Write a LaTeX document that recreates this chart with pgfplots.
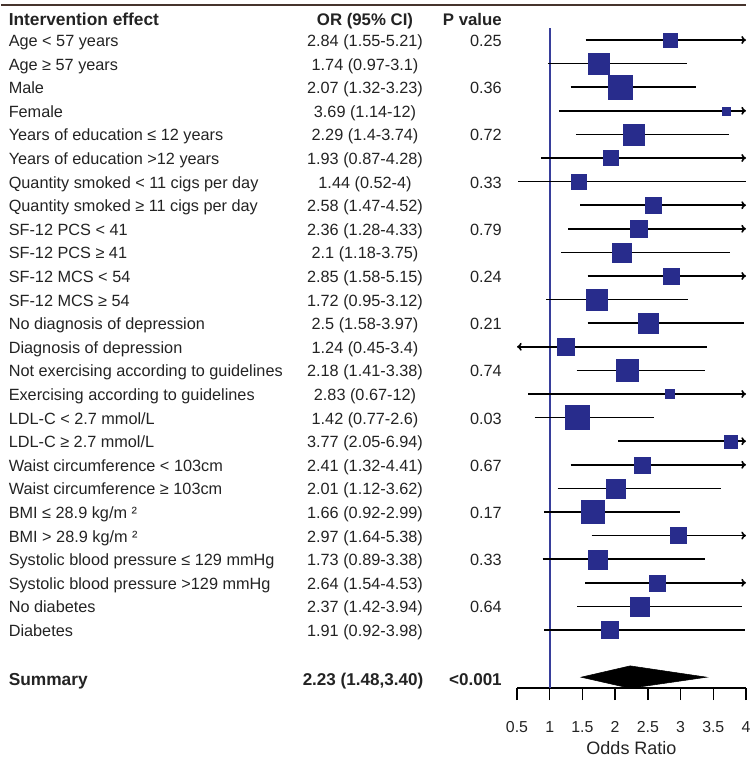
\documentclass[border=0pt]{standalone}
\usepackage{pgfplots}
\pgfplotsset{compat=1.18}
\usepackage{pgfplotstable}
\usepackage{fontspec}
\setmainfont{Liberation Sans}
\usetikzlibrary{arrows.meta}
\definecolor{sqblue}{RGB}{40,44,140}
\definecolor{vblue}{RGB}{55,62,155}
\definecolor{txt}{RGB}{35,35,35}
\definecolor{topline}{RGB}{70,52,45}

% row  OR  lower  upper  square side (px)
\pgfplotstableread{
row or lo hi sz
1 2.84 1.55 5.21 14
2 1.74 0.97 3.1 21
3 2.07 1.32 3.23 24
4 3.69 1.14 12 8
5 2.29 1.4 3.74 21
6 1.93 0.87 4.28 15
7 1.44 0.52 4 15
8 2.58 1.47 4.52 16
9 2.36 1.28 4.33 17
10 2.1 1.18 3.75 19
11 2.85 1.58 5.15 16
12 1.72 0.95 3.12 21
13 2.5 1.58 3.97 20
14 1.24 0.45 3.4 17
15 2.18 1.41 3.38 22
16 2.83 0.67 12 9
17 1.42 0.77 2.6 24
18 3.77 2.05 6.94 13
19 2.41 1.32 4.41 16
20 2.01 1.12 3.62 19
21 1.66 0.92 2.99 23
22 2.97 1.64 5.38 16
23 1.73 0.89 3.38 19
24 2.64 1.54 4.53 16
25 2.37 1.42 3.94 19
26 1.91 0.92 3.98 17
}\data

% CI lines inside the axis range
\pgfplotstableread{
row lo hi
2 0.97 3.1
3 1.32 3.23
5 1.4 3.74
7 0.52 4
10 1.18 3.75
12 0.95 3.12
13 1.58 3.97
15 1.41 3.38
17 0.77 2.6
20 1.12 3.62
21 0.92 2.99
23 0.89 3.38
25 1.42 3.94
26 0.92 3.98
}\ciplain

% CI lines whose upper bound passes 4
\pgfplotstableread{
row lo hi
1 1.55 5.21
4 1.14 12
6 0.87 4.28
8 1.47 4.52
9 1.28 4.33
11 1.58 5.15
16 0.67 12
18 2.05 6.94
19 1.32 4.41
22 1.64 5.38
24 1.54 4.53
}\ciright

% CI lines whose lower bound passes 0.5
\pgfplotstableread{
row lo hi
14 0.45 3.4
}\cileft

\newcommand{\frow}[4]{%
  \pgfmathsetmacro{\yy}{46.5+(#1-1)*23.6}%
  \node[anchor=base west,inner sep=0] at (7.5,\yy) {#2};
  \node[anchor=base,inner sep=0] at (364,\yy) {#3};
  \node[anchor=base east,inner sep=0] at (501,\yy) {#4};
}

\begin{document}
\begin{tikzpicture}
\begin{scope}[x=0.75pt,y=-0.75pt]
\path (0,0) rectangle (755,760);
\draw[topline, line width=1.5pt] (0,5) -- (745,5);
\begin{scope}[text=txt, font=\fontsize{12.2}{14}\selectfont]
\node[anchor=base west,inner sep=0,font=\fontsize{13}{15}\selectfont\bfseries] at (7.5,26) {Intervention effect};
\node[anchor=base,inner sep=0,font=\fontsize{12.6}{15}\selectfont\bfseries] at (364,26) {OR (95\% CI)};
\node[anchor=base east,inner sep=0,font=\fontsize{12.6}{15}\selectfont\bfseries] at (501,26) {P value};
\frow{1}{Age < 57 years}{2.84 (1.55-5.21)}{0.25}
\frow{2}{Age ≥ 57 years}{1.74 (0.97-3.1)}{}
\frow{3}{Male}{2.07 (1.32-3.23)}{0.36}
\frow{4}{Female}{3.69 (1.14-12)}{}
\frow{5}{Years of education ≤ 12 years}{2.29 (1.4-3.74)}{0.72}
\frow{6}{Years of education >12 years}{1.93 (0.87-4.28)}{}
\frow{7}{Quantity smoked < 11 cigs per day}{1.44 (0.52-4)}{0.33}
\frow{8}{Quantity smoked ≥ 11 cigs per day}{2.58 (1.47-4.52)}{}
\frow{9}{SF-12 PCS < 41}{2.36 (1.28-4.33)}{0.79}
\frow{10}{SF-12 PCS ≥ 41}{2.1 (1.18-3.75)}{}
\frow{11}{SF-12 MCS < 54}{2.85 (1.58-5.15)}{0.24}
\frow{12}{SF-12 MCS ≥ 54}{1.72 (0.95-3.12)}{}
\frow{13}{No diagnosis of depression}{2.5 (1.58-3.97)}{0.21}
\frow{14}{Diagnosis of depression}{1.24 (0.45-3.4)}{}
\frow{15}{Not exercising according to guidelines}{2.18 (1.41-3.38)}{0.74}
\frow{16}{Exercising according to guidelines}{2.83 (0.67-12)}{}
\frow{17}{LDL-C < 2.7 mmol/L}{1.42 (0.77-2.6)}{0.03}
\frow{18}{LDL-C ≥ 2.7 mmol/L}{3.77 (2.05-6.94)}{}
\frow{19}{Waist circumference < 103cm}{2.41 (1.32-4.41)}{0.67}
\frow{20}{Waist circumference ≥ 103cm}{2.01 (1.12-3.62)}{}
\frow{21}{BMI ≤ 28.9 kg/m ²}{1.66 (0.92-2.99)}{0.17}
\frow{22}{BMI > 28.9 kg/m ²}{2.97 (1.64-5.38)}{}
\frow{23}{Systolic blood pressure ≤ 129 mmHg}{1.73 (0.89-3.38)}{0.33}
\frow{24}{Systolic blood pressure >129 mmHg}{2.64 (1.54-4.53)}{}
\frow{25}{No diabetes}{2.37 (1.42-3.94)}{0.64}
\frow{26}{Diabetes}{1.91 (0.92-3.98)}{}
\node[anchor=base west,inner sep=0,font=\fontsize{13}{15}\selectfont\bfseries] at (7.5,685) {Summary};
\node[anchor=base,inner sep=0,font=\fontsize{12.8}{15}\selectfont\bfseries] at (362,685) {2.23 (1.48,3.40)};
\node[anchor=base east,inner sep=0,font=\fontsize{12.8}{15}\selectfont\bfseries] at (501,685) {<0.001};
\end{scope}
\end{scope}

\begin{axis}[
  at={(387pt,-516pt)}, anchor=south west,
  scale only axis, width=171.75pt, height=495pt,
  xmin=0.5, xmax=4, ymin=-28.458, ymax=-0.4915,
  clip=false,
  axis x line=bottom, axis y line=none,
  x axis line style={-, line width=1pt, black},
  xtick={0.5,1,1.5,2,2.5,3,3.5,4},
  xticklabels={0.5,1,1.5,2,2.5,3,3.5,4},
  tick align=outside, major tick length=9pt,
  every tick/.style={black, line width=1pt},
  xticklabel style={font=\fontsize{11.9}{13}\selectfont, text=txt, yshift=-12.5pt},
  xlabel={Odds Ratio},
  xlabel style={font=\fontsize{13.5}{15}\selectfont, text=txt},
]
% reference line at OR = 1
\addplot[vblue, line width=1.5pt] coordinates {(1,-0.4915) (1,-28.458)};
% confidence intervals
\addplot[black, line width=1.2pt, quiver={u={\thisrow{hi}-\thisrow{lo}}, v=0}]
  table[x=lo, y expr=-\thisrow{row}] {\ciplain};
\addplot[black, line width=1.2pt, -{To[length=3.5pt,width=6pt]}, quiver={u={4-\thisrow{lo}}, v=0}]
  table[x=lo, y expr=-\thisrow{row}] {\ciright};
\addplot[black, line width=1.2pt, -{To[length=3.5pt,width=6pt]}, quiver={u={0.5-\thisrow{hi}}, v=0}]
  table[x=hi, y expr=-\thisrow{row}] {\cileft};
% point estimates
\addplot[scatter, only marks, mark=square*,
  scatter/use mapped color={draw=sqblue, fill=sqblue},
  visualization depends on={0.375*\thisrow{sz} \as \msz},
  scatter/@pre marker code/.append style={/tikz/mark size=\msz pt},
  mark options={line width=0.2pt}]
  table[x=or, y expr=-\thisrow{row}] {\data};
% summary diamond
\addplot[fill=black, draw=black] coordinates {(1.48,-28) (2.23,-27.52) (3.40,-28) (2.23,-28.47)} -- cycle;
\end{axis}
\end{tikzpicture}
\end{document}
